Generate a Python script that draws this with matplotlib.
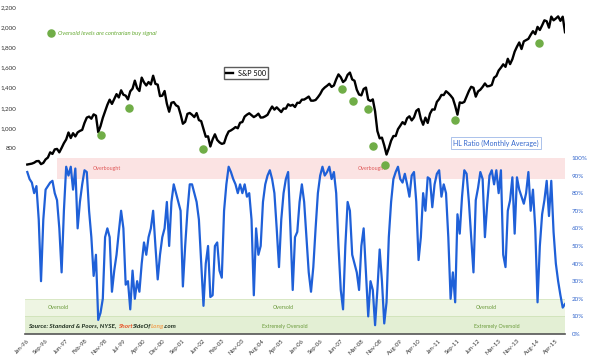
import numpy as np
import matplotlib
matplotlib.use("Agg")
import matplotlib.pyplot as plt

plt.rcParams['font.family'] = ['Lato', 'DejaVu Sans']

# S&P 500 mensual, ene-1996 .. ago-2015
sp500 = [
    636, 640, 645, 654, 669, 671, 640, 652, 687, 705, 757, 741,
    786, 791, 757, 801, 848, 885, 954, 899, 947, 915, 955, 970,
    980, 1049, 1102, 1112, 1091, 1134, 1121, 957, 1017, 1099, 1164, 1229,
    1280, 1238, 1286, 1335, 1302, 1373, 1329, 1320, 1283, 1363, 1389, 1469,
    1394, 1366, 1499, 1452, 1421, 1455, 1431, 1518, 1437, 1429, 1315, 1320,
    1366, 1240, 1160, 1249, 1256, 1224, 1211, 1134, 1041, 1060, 1139, 1148,
    1130, 1107, 1147, 1077, 1067, 990, 912, 916, 815, 886, 936, 880,
    856, 841, 848, 917, 964, 975, 990, 1008, 996, 1051, 1058, 1112,
    1131, 1145, 1126, 1107, 1121, 1141, 1102, 1104, 1115, 1130, 1174, 1212,
    1181, 1204, 1181, 1157, 1192, 1191, 1234, 1220, 1229, 1207, 1249, 1248,
    1280, 1281, 1295, 1311, 1270, 1270, 1277, 1304, 1336, 1378, 1401, 1418,
    1438, 1407, 1421, 1482, 1531, 1503, 1455, 1474, 1527, 1549, 1481, 1468,
    1379, 1331, 1323, 1386, 1400, 1280, 1267, 1283, 1165, 969, 896, 903,
    826, 735, 798, 873, 919, 919, 987, 1021, 1057, 1036, 1096, 1115,
    1074, 1104, 1169, 1187, 1089, 1031, 1102, 1049, 1141, 1183, 1181, 1258,
    1286, 1327, 1326, 1364, 1345, 1321, 1292, 1219, 1131, 1253, 1247, 1258,
    1312, 1366, 1408, 1398, 1310, 1362, 1379, 1407, 1441, 1412, 1416, 1426,
    1498, 1515, 1569, 1598, 1631, 1606, 1686, 1633, 1682, 1757, 1806, 1848,
    1783, 1859, 1872, 1884, 1924, 1960, 1931, 2003, 1972, 2018, 2068, 2059,
    1995, 2105, 2068, 2086, 2107, 2063, 2104, 1950,
]

# HL Ratio (media mensual), en %
hl_ratio = [
    92, 88, 86, 80, 84, 65, 30, 65, 82, 84, 86, 87,
    80, 76, 60, 35, 70, 95, 90, 95, 82, 94, 60, 75,
    85, 93, 92, 70, 55, 33, 45, 8, 12, 20, 55, 60,
    55, 24, 36, 45, 58, 70, 60, 28, 30, 14, 36, 20,
    30, 24, 40, 52, 45, 55, 60, 70, 50, 31, 45, 55,
    60, 75, 50, 75, 85, 80, 75, 70, 27, 50, 70, 85,
    85, 80, 75, 65, 40, 16, 40, 50, 21, 22, 50, 52,
    36, 32, 70, 85, 95, 92, 88, 85, 80, 85, 80, 85,
    78, 80, 65, 22, 60, 45, 50, 75, 85, 90, 93, 88,
    80, 60, 38, 65, 80, 88, 92, 60, 25, 55, 58, 75,
    85, 75, 55, 35, 24, 38, 60, 80, 90, 95, 90, 92,
    95, 88, 92, 80, 50, 25, 14, 50, 75, 70, 45, 40,
    35, 25, 50, 60, 35, 10, 30, 25, 5, 25, 48, 30,
    6, 18, 55, 75, 88, 92, 95, 88, 86, 91, 85, 78,
    90, 92, 75, 42, 55, 80, 70, 89, 88, 72, 85, 91,
    93, 78, 85, 80, 55, 20, 35, 18, 68, 57, 78, 93,
    91, 75, 55, 35, 76, 83, 92, 88, 55, 74, 90, 93,
    85, 93, 80, 93, 45, 38, 70, 76, 89, 57, 89, 82,
    78, 74, 80, 92, 70, 82, 60, 18, 50, 68, 76, 87,
    67, 87, 58, 40, 30, 22, 15, 17,
]

# señales de sobreventa (mes desde ene-1996, nivel S&P)
dot_months = [32, 44.5, 77, 137.5, 142.5, 149, 151, 156.5, 187, 223.5]
dot_values = [929, 1198, 790, 1387, 1268, 1188, 820, 631, 1079, 1845]

tick_labels = ['Jan-96', 'Sep-96', 'Jun-97', 'Feb-98', 'Nov-98', 'Jul-99', 'Apr-00',
               'Dec-00', 'Sep-01', 'Jun-02', 'Feb-03', 'Nov-03', 'Aug-04', 'Apr-05',
               'Jan-06', 'Sep-06', 'Jun-07', 'Mar-08', 'Nov-08', 'Aug-09', 'Apr-10',
               'Jan-11', 'Sep-11', 'Jun-12', 'Mar-13', 'Nov-13', 'Aug-14', 'Apr-15']

meses = ['Jan', 'Feb', 'Mar', 'Apr', 'May', 'Jun', 'Jul', 'Aug', 'Sep', 'Oct', 'Nov', 'Dec']
def mes_indice(etiqueta):
    m, y = etiqueta.split('-')
    return (int(y) + 100 - 96) % 100 * 12 + meses.index(m)

tick_pos = [mes_indice(t) for t in tick_labels]
x = np.arange(len(sp500))

fig = plt.figure(figsize=(5.93, 3.59), dpi=100)
ax = fig.add_axes([25 / 593, 25 / 359, 540 / 593, 331 / 359])
ax2 = ax.twinx()
ax.set_zorder(ax2.get_zorder() + 1)
ax.patch.set_visible(False)

# bandas
ax2.fill_between([13, 235], 88, 100, color='#fbe3e3', lw=0)
ax2.fill_between([-1, 235], 10, 20, color='#eef5e3', lw=0)
ax2.fill_between([-1, 235], 0, 10, color='#e3efd4', lw=0)
ax2.plot([-1, 235], [20, 20], color='#d5e6c0', lw=0.6)
ax2.plot([-1, 235], [10, 10], color='#cfe2b8', lw=0.6)

ax2.plot(x, hl_ratio, color='#1f60d8', lw=1.6)
ax.plot(x, sp500, color='black', lw=1.7, label='S&P 500')
ax.scatter(dot_months, dot_values, s=26, color='#70ad47', zorder=5)

ax.set_xlim(-1, 235)
ax.set_ylim(-1047, 2240)
ax2.set_ylim(0, 188)

ax.set_yticks(range(800, 2201, 200))
ax.set_yticklabels([f'{v:,}' for v in range(800, 2201, 200)], fontsize=4.5, color='#333333')
ax2.set_yticks(range(0, 101, 10))
ax2.set_yticklabels([f'{v}%' for v in range(0, 101, 10)], fontsize=4.5, color='#3366cc')
ax.set_xticks(tick_pos)
ax.set_xticklabels(tick_labels, rotation=45, ha='right', rotation_mode='anchor',
                   fontsize=4.3, color='#333333')
ax.tick_params(length=0, pad=6)
ax.tick_params(axis='x', pad=3)
ax2.tick_params(length=0, pad=5)

for a in (ax, ax2):
    for s in ['top', 'left', 'right', 'bottom']:
        a.spines[s].set_visible(False)
ax2.plot([-1, 235], [0, 0], color='#555555', lw=1.2, clip_on=False)

# textos de las bandas
for m in [34.8, 150.7]:
    ax2.text(m, 94, 'Overbought', fontsize=3.8, color='#e05a5a', ha='center', va='center')
for m in [13.5, 112, 200.5]:
    ax2.text(m, 14.8, 'Oversold', fontsize=3.8, color='#6a9a3a', ha='center', va='center')
for m in [112.6, 205.3]:
    ax2.text(m, 4.5, 'Extremely Oversold', fontsize=3.8, color='#6a9a3a', ha='center', va='center')

# fuente
partes = [('Source: Standard & Poors, NYSE, ', '#1f2f1f'), ('Short', '#e8542a'),
          ('SideOf', '#1f2f1f'), ('Long', '#f0a050'), ('.com', '#1f2f1f')]
t = ax2.text(0.3, 4.5, partes[0][0], fontsize=4.6, fontweight='bold', style='italic',
             color=partes[0][1], va='center')
fig.canvas.draw()
for txt, col in partes[1:]:
    t = ax2.annotate(txt, xycoords=t, xy=(1, 0), va='bottom', fontsize=4.6,
                     fontweight='bold', style='italic', color=col)

ax.legend(loc='center', bbox_to_anchor=(246 / 593, 1 - 73 / 359),
          bbox_transform=fig.transFigure, fontsize=5.2, handlelength=1,
          frameon=True, fancybox=False, edgecolor='#333333', borderpad=0.3,
          handletextpad=0.6)
fig.text(496 / 593, 1 - 143 / 359, 'HL Ratio (Monthly Average)', fontsize=5,
         color='#3366cc', ha='center', va='center',
         bbox=dict(boxstyle='square,pad=0.3', fc='white', ec='#9db8e8', lw=0.6))

ax.scatter([10.4], [1942], s=26, color='#70ad47')
ax.text(13.4, 1942, 'Oversold levels are contrarian buy signal', fontsize=4.2,
        style='italic', color='#66aa33', va='center')

fig.savefig('out.png', dpi=100)
